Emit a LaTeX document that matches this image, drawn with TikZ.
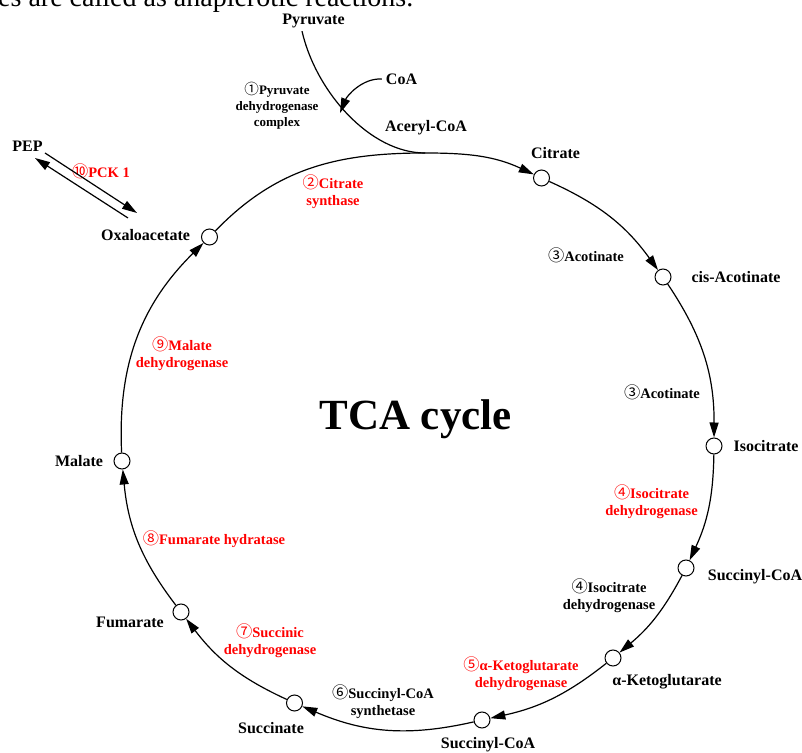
\documentclass[tikz,border=0pt]{standalone}
\usepackage{fontspec}
\setmainfont{Liberation Serif}
\newfontfamily\circfont{Noto Sans CJK SC}[Scale=1.12]
\usetikzlibrary{arrows.meta,calc}
\newcommand{\cnum}[1]{{\circfont\mdseries #1}}
\begin{document}
\begin{tikzpicture}[x=1pt,y=1pt,
  met/.style={font=\fontsize{16}{18}\selectfont\bfseries, inner sep=0pt},
  enz/.style={font=\fontsize{14.5}{17}\selectfont\bfseries, align=center, inner sep=0pt},
  redenz/.style={enz, text=red},
  pt/.style={circle, draw, fill=white, line width=1pt, minimum size=16pt, inner sep=0pt},
  flow/.style={line width=1.2pt, -{Triangle[length=15pt,width=9pt]}},
  plain/.style={line width=1.2pt},
]
\useasboundingbox (0,0) rectangle (802,752);
\fill[white] (0,0) rectangle (802,752);
\begin{scope}
\clip (0,0) rectangle (802,752);
\node[anchor=base west, font=\fontsize{28}{30}\selectfont, inner sep=0pt] (hdr) at (-2,745) {es are called as anaplerotic reactions.};
\end{scope}

% metabolite points
\node[pt] (cit)  at (541.5,574) {};
\node[pt] (cis)  at (663,475) {};
\node[pt] (iso)  at (714,306) {};
\node[pt] (sucr) at (686,184) {};
\node[pt] (akg)  at (613,94) {};
\node[pt] (sucb) at (482,32) {};
\node[pt] (suc)  at (294.5,49) {};
\node[pt] (fum)  at (181,140) {};
\node[pt] (mal)  at (122,291) {};
\node[pt] (oxa)  at (209.5,515) {};

% metabolite labels
\node[met] (pyr)   at (313.5,731) {Pyruvate};
\node[met] (coa)   at (401.5,673) {CoA};
\node[met] (acoa)  at (426,624) {Aceryl-CoA};
\node[met] (citl)  at (555.5,599) {Citrate};
\node[met] (pep)   at (27.5,606) {PEP};
\node[met] (oxal)  at (145.5,517) {Oxaloacetate};
\node[met] (cisl)  at (736,475) {cis-Acotinate};
\node[met] (isol)  at (766,306) {Isocitrate};
\node[met] (sucrl) at (755,175) {Succinyl-CoA};
\node[met] (akgl)  at (667,70) {α-Ketoglutarate};
\node[met] (sucbl) at (488,7) {Succinyl-CoA};
\node[met] (sucl)  at (271,24) {Succinate};
\node[met] (fuml)  at (130,130) {Fumarate};
\node[met] (mall)  at (79,291) {Malate};

\node[font=\fontsize{43}{45}\selectfont\bfseries, anchor=base, inner sep=0pt] (tca) at (415.5,322) {TCA cycle};

% enzyme labels
\node[enz, font=\fontsize{13}{16}\selectfont\bfseries] (pdh) at (277,646) {\cnum{①}Pyruvate\\dehydrogenase\\complex};
\node[redenz] (pck) at (101,581) {\cnum{⑩}PCK 1};
\node[redenz] (cs)  at (333,560.5) {\cnum{②}Citrate\\synthase};
\node[enz] (aco1) at (586,497) {\cnum{③}Acotinate};
\node[enz] (aco2) at (662,360) {\cnum{③}Acotinate};
\node[redenz] (idh) at (651.5,250.5) {\cnum{④}Isocitrate\\dehydrogenase};
\node[enz] (idhb) at (609,156.5) {\cnum{④}Isocitrate\\dehydrogenase};
\node[redenz] (akgdh) at (521,78.5) {\cnum{⑤}α-Ketoglutarate\\dehydrogenase};
\node[enz] (scs) at (383,50.5) {\cnum{⑥}Succinyl-CoA\\synthetase};
\node[redenz] (sdh) at (270,111.5) {\cnum{⑦}Succinic\\dehydrogenase};
\node[redenz] (fh)  at (214,213) {\cnum{⑧}Fumarate hydratase};
\node[redenz] (mdh) at (182,398.5) {\cnum{⑨}Malate\\dehydrogenase};

% cycle
\coordinate (join) at (425,599);
\draw[plain] (oxa) to[out=46, in=180] (join);
\draw[flow] (join) to[out=0, in=155] (cit);
\draw[flow] (cit)  to[bend left=15] (cis);
\draw[flow] (cis)  to[bend left=17] (iso);
\draw[flow] (iso)  to[bend left=12] (sucr);
\draw[flow] (sucr) to[bend left=11] (akg);
\draw[flow] (akg)  to[bend left=13] (sucb);
\draw[flow] (sucb) to[bend left=18] (suc);
\draw[flow] (suc)  to[bend left=14] (fum);
\draw[flow] (fum)  to[bend left=16] (mal);
\draw[flow] (mal)  to[bend left=24] (oxa);

% pyruvate entry
\coordinate (pst) at ($(pyr.south)+(-11.5,-3)$);
\draw[plain] (pst) .. controls (316,660) and (370,599) .. (join);
\draw[flow] ([xshift=-4pt]coa.west) .. controls (362,674) and (347,656) .. (340,639);

% PEP <-> oxaloacetate
\coordinate (pa1) at (45,599);
\coordinate (pa2) at (137,539);
\coordinate (pb1) at (128,534);
\coordinate (pb2) at (35,594);
\draw[flow] (pa1) -- (pa2);
\draw[flow] (pb1) -- (pb2);
\end{tikzpicture}
\end{document}
